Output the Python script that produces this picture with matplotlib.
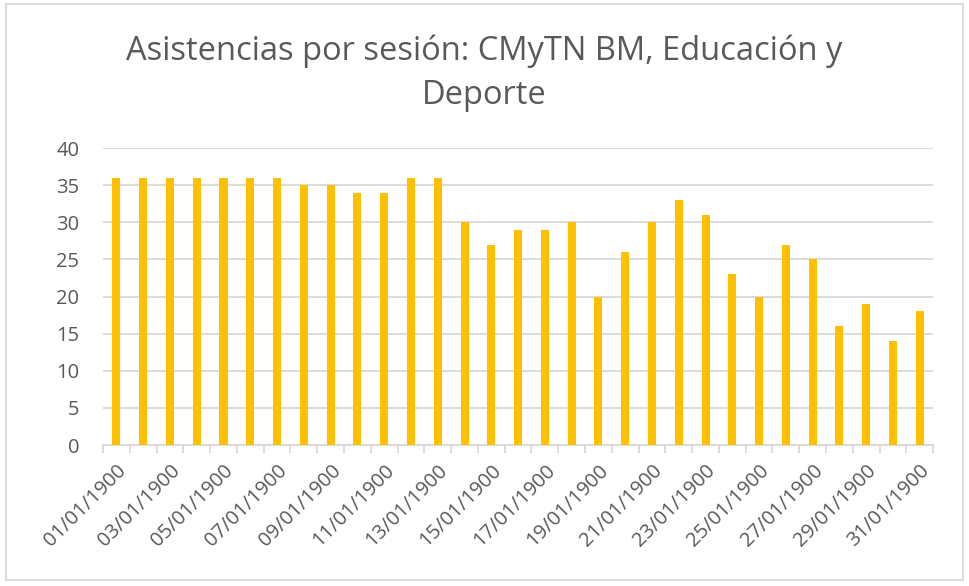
import matplotlib
matplotlib.use("Agg")
import matplotlib.pyplot as plt
from matplotlib.patches import Rectangle
from matplotlib.ticker import MultipleLocator, FixedLocator

plt.rcParams['font.family'] = ['Open Sans', 'DejaVu Sans']

dates = [f"{d:02d}/01/1900" for d in range(1, 32)]
values = [36, 36, 36, 36, 36, 36, 36, 35, 35, 34, 34, 36, 36, 30, 27, 29, 29,
          30, 20, 26, 30, 33, 31, 23, 20, 27, 25, 16, 19, 14, 18]
title = "Asistencias por sesión: CMyTN BM, Educación y\nDeporte"

text_color = "#595959"
grid_color = "#d9d9d9"
bar_color = "#ffc000"

fig = plt.figure(figsize=(9.69, 5.86), dpi=100)
ax = fig.add_axes([0.1063, 0.2406, 0.8567, 0.5068])

x = list(range(len(values)))
ax.bar(x, values, width=0.3, color=bar_color, zorder=3)

ax.set_ylim(0, 40)
ax.set_xlim(-0.5, len(values) - 0.5)
ax.yaxis.set_major_locator(MultipleLocator(5))
ax.grid(axis='y', color=grid_color, linewidth=1.3, zorder=0)

for s in ['top', 'right', 'left']:
    ax.spines[s].set_visible(False)
ax.spines['bottom'].set_color(grid_color)
ax.spines['bottom'].set_linewidth(1.3)

ax.set_xticks(x[::2])
ax.set_xticklabels(dates[::2], rotation=45, ha='right', va='top',
                   rotation_mode='anchor', fontsize=14.5, color=text_color)
ax.tick_params(axis='x', which='major', length=0, pad=11)
ax.xaxis.set_minor_locator(FixedLocator([i - 0.5 for i in range(len(values) + 1)]))
ax.tick_params(axis='x', which='minor', length=6, color=grid_color, width=1.3)
ax.tick_params(axis='y', length=0, labelsize=14.5, labelcolor=text_color, pad=17)

fig.text(0.5, 0.875, title, ha='center', va='center', fontsize=23.5,
         color=text_color, linespacing=1.4)

fig.patches.append(Rectangle((0.006, 0.01), 0.988, 0.983, transform=fig.transFigure,
                             fill=False, edgecolor=grid_color, linewidth=1.3))

fig.savefig("out.png", dpi=100, facecolor='white')
